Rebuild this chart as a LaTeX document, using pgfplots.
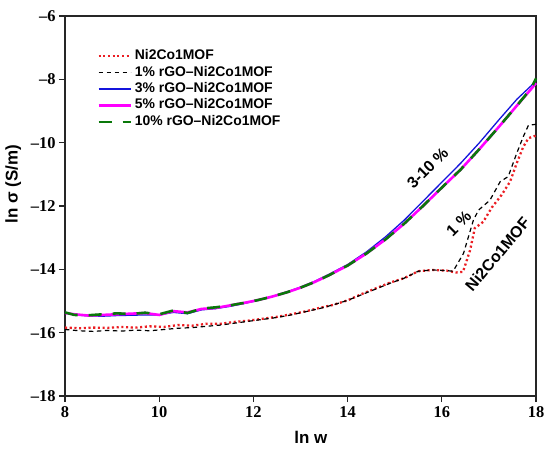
\documentclass[border=0pt]{standalone}
\usepackage{fontspec}
\setmainfont{Liberation Serif}
\setsansfont{Liberation Sans}
\newfontfamily\timesfont{Liberation Serif}
\usepackage{pgfplots}
\pgfplotsset{compat=1.18}
\definecolor{cred}{RGB}{235,30,35}
\definecolor{cblue}{RGB}{20,20,220}
\definecolor{cmag}{RGB}{255,0,255}
\definecolor{cgreen}{RGB}{10,120,10}
\newcommand{\tkf}{\timesfont\bfseries\fontsize{16.5}{16.5}\selectfont}
\newcommand{\tf}[1]{{\tkf #1}}
\newcommand{\lbf}{\sffamily\bfseries\fontsize{17}{17}\selectfont}
\begin{document}
\begin{tikzpicture}
\begin{axis}[
  scale only axis, width=471bp, height=380bp,
  xmin=8, xmax=18, ymin=-18, ymax=-6,
  xtick={8,10,12,14,16,18}, xticklabels={\tf{8},\tf{10},\tf{12},\tf{14},\tf{16},\tf{18}},
  ytick={-18,-16,-14,-12,-10,-8,-6},
  yticklabels={\tf{–18},\tf{–16},\tf{–14},\tf{–12},\tf{–10},\tf{–8},\tf{–6}},
  tick pos=left, tick align=outside, major tick length=6bp,
  axis line style={line width=1.4bp, black!85},
  major tick style={line width=1.3bp, black!85},
  xticklabel style={font=\tkf, yshift=-1bp},
  yticklabel style={font=\tkf},
  xlabel={\lbf ln w}, ylabel={\lbf ln σ (S/m)},
  xlabel style={at={(axis description cs:0.522,-0.108)}, anchor=center},
  ylabel style={at={(axis description cs:-0.110,0.558)}, anchor=center},
  clip=false,
  legend cell align=left,
  legend image code/.code={\draw[#1] (0bp,0bp) -- (32bp,0bp);},
  legend style={draw=none, fill=none, at={(axis description cs:0.068,0.913)}, anchor=north west,
    font=\sffamily\bfseries\fontsize{14}{14}\selectfont,
    nodes={inner xsep=3bp, inner ysep=0.5bp, text height=10bp, text depth=3bp},
    row sep=2.4bp, inner sep=0pt},
]
\coordinate (sw) at (rel axis cs:0,0);
\coordinate (ne) at (rel axis cs:1,1);
\addplot[cred, line width=2.3bp, dash pattern=on 2.1bp off 2.6bp] coordinates {
(8.0,-15.84) (8.3,-15.86) (8.6,-15.84) (8.9,-15.85) (9.2,-15.82) (9.5,-15.84) (9.8,-15.80)
(10.1,-15.82) (10.4,-15.76) (10.7,-15.78) (11.0,-15.72) (11.3,-15.72) (11.6,-15.66) (11.9,-15.62)
(12.2,-15.56) (12.5,-15.5) (12.8,-15.42) (13.1,-15.33) (13.4,-15.22) (13.7,-15.12) (14.0,-14.98)
(14.3,-14.78) (14.6,-14.6) (14.9,-14.42) (15.2,-14.28) (15.5,-14.06) (15.8,-14.02) (16.1,-14.04)
(16.3,-14.1) (16.45,-14.08) (16.6,-13.4) (16.7,-12.7) (16.88,-12.5) (17.06,-12.05) (17.27,-11.65)
(17.45,-11.23) (17.59,-10.65) (17.73,-10.13) (17.84,-9.86) (17.95,-9.8) (18.0,-9.78)};
\addlegendentry{Ni2Co1MOF}
\addplot[black, line width=1.2bp, dash pattern=on 4.5bp off 3.5bp] coordinates {
(8.0,-15.9) (8.3,-15.94) (8.6,-15.96) (8.9,-15.93) (9.2,-15.95) (9.5,-15.92) (9.8,-15.94)
(10.1,-15.9) (10.4,-15.86) (10.7,-15.84) (11.0,-15.8) (11.3,-15.76) (11.6,-15.7) (11.9,-15.64)
(12.2,-15.58) (12.5,-15.52) (12.8,-15.44) (13.1,-15.34) (13.4,-15.24) (13.7,-15.12) (14.0,-14.98)
(14.3,-14.8) (14.6,-14.62) (14.9,-14.44) (15.2,-14.28) (15.5,-14.06) (15.8,-14.02) (16.1,-14.04)
(16.24,-14.06) (16.46,-13.5) (16.67,-12.45) (16.78,-12.13) (17.02,-11.82) (17.24,-11.23)
(17.41,-11.07) (17.59,-10.34) (17.73,-9.81) (17.84,-9.45) (18.0,-9.42)};
\addlegendentry{1\% rGO–Ni2Co1MOF}
\addplot[cblue, line width=1.3bp] coordinates {
(8.0,-15.36) (8.2,-15.44) (8.5,-15.47) (8.8,-15.48) (9.1,-15.46) (9.4,-15.45) (9.7,-15.44)
(10.0,-15.44) (10.3,-15.36) (10.6,-15.40) (10.9,-15.28) (11.2,-15.24) (11.5,-15.17) (11.8,-15.08)
(12.1,-14.98) (12.4,-14.86) (12.7,-14.72) (13.0,-14.56) (13.3,-14.38) (13.6,-14.16) (14.0,-13.85)
(14.4,-13.45) (14.8,-12.98) (15.2,-12.45) (15.6,-11.85) (16.0,-11.25) (16.4,-10.65) (16.8,-10.0)
(17.2,-9.3) (17.6,-8.62) (17.9,-8.2) (18.0,-8.02)};
\addlegendentry{3\% rGO–Ni2Co1MOF}
\addplot[cmag, line width=2.6bp] coordinates {
(8.0,-15.38) (8.2,-15.42) (8.5,-15.46) (8.8,-15.44) (9.1,-15.42) (9.4,-15.4) (9.7,-15.38)
(10.0,-15.44) (10.3,-15.32) (10.6,-15.36) (10.9,-15.25) (11.2,-15.22) (11.5,-15.14) (11.8,-15.06)
(12.1,-14.97) (12.4,-14.86) (12.7,-14.73) (13.0,-14.58) (13.3,-14.40) (13.6,-14.19) (14.0,-13.88)
(14.4,-13.5) (14.8,-13.06) (15.2,-12.56) (15.6,-12.0) (16.0,-11.42) (16.4,-10.85) (16.8,-10.2)
(17.2,-9.52) (17.6,-8.82) (17.9,-8.3) (18.0,-8.12)};
\addlegendentry{5\% rGO–Ni2Co1MOF}
\addplot[cgreen, line width=2.6bp, dash pattern=on 13bp off 11bp] coordinates {
(8.0,-15.36) (8.2,-15.44) (8.5,-15.45) (8.8,-15.42) (9.1,-15.39) (9.4,-15.41) (9.7,-15.37)
(10.0,-15.42) (10.3,-15.30) (10.6,-15.38) (10.9,-15.24) (11.2,-15.2) (11.5,-15.14) (11.8,-15.06)
(12.1,-14.97) (12.4,-14.86) (12.7,-14.73) (13.0,-14.58) (13.3,-14.40) (13.6,-14.19) (14.0,-13.88)
(14.4,-13.5) (14.8,-13.06) (15.2,-12.56) (15.6,-12.0) (16.0,-11.42) (16.4,-10.85) (16.8,-10.2)
(17.2,-9.52) (17.6,-8.82) (17.9,-8.28) (18.0,-7.97)};
\addlegendentry{10\% rGO–Ni2Co1MOF}
\node[rotate=45, font=\sffamily\bfseries\fontsize{16}{16}\selectfont] at (axis cs:15.70,-10.8) {3-10 \%};
\node[rotate=45, font=\sffamily\bfseries\fontsize{16}{16}\selectfont] at (axis cs:16.36,-12.55) {1 \%};
\node[rotate=50, font=\sffamily\bfseries\fontsize{16}{16}\selectfont] at (axis cs:17.18,-13.52) {Ni2Co1MOF};
\end{axis}
\pgfresetboundingbox
\path[use as bounding box] ([xshift=-65bp,yshift=-53bp]sw) rectangle ([xshift=14bp,yshift=16bp]ne);
\end{tikzpicture}
\end{document}
